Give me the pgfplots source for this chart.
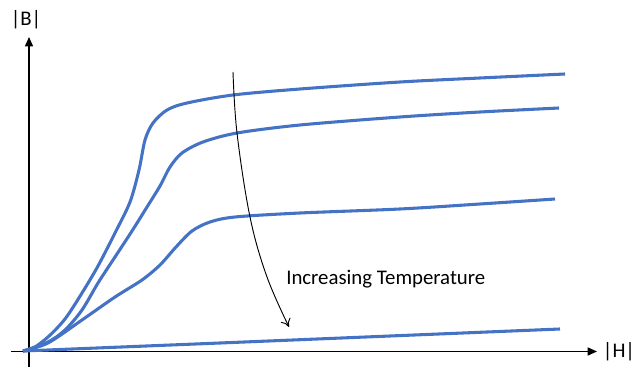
\documentclass[border=0pt]{standalone}
\usepackage{fontspec}
\setmainfont{Carlito}
\usepackage{pgfplots}
\pgfplotsset{compat=1.18}
\usetikzlibrary{arrows.meta}
\definecolor{cblue}{RGB}{68,114,196}
\begin{document}
\begin{tikzpicture}
\begin{axis}[
  scale only axis, width=479.25pt, height=286.5pt,
  xmin=0, xmax=639, ymin=0, ymax=382,
  hide axis, clip=false,
]
\path (axis cs:0,0) rectangle (axis cs:639,382);
% axes
\addplot[black, line width=1.1pt, -{Triangle[length=7pt,width=6pt]}] coordinates {(11,30.5) (597,30.5)};
\addplot[black, line width=1.1pt, -{Triangle[length=7pt,width=6pt]}] coordinates {(29,15) (29,345)};
% curves
\addplot[cblue, line width=2.3pt, smooth, tension=0.5] coordinates {
(23,31) (32,33) (48,45) (65,63) (82,89) (98,116) (115,149) (130,180) (139,212) (145,242) (153,259) (167,272) (187,279) (233,287) (300,293) (400,300) (480,304) (565,308)};
\addplot[cblue, line width=2.3pt, smooth, tension=0.5] coordinates {
(23,31) (48,40) (65,52) (82,72) (98,99) (115,125) (132,151) (147,175) (160,196) (170,215) (182,229) (203,240) (237,249) (300,257) (400,265) (480,270) (559,274)};
\addplot[cblue, line width=2.3pt, smooth, tension=0.5] coordinates {
(23,31) (48,39) (82,62) (115,85) (142,102) (160,117) (176,135) (192,151) (210,160) (235,165) (300,169) (400,173) (480,178) (555,183)};
\addplot[cblue, line width=2.3pt] coordinates {(23,31) (220,39) (560,53)};
% annotation arrow
\draw[black, line width=0.7pt, -{To[length=6pt,width=8pt]}] plot[smooth, tension=0.6] coordinates {(axis cs:233,310) (axis cs:237,249) (axis cs:250,165) (axis cs:267,105) (axis cs:289,55)};
\node[anchor=west, inner sep=0pt, font=\fontsize{15.6}{18}\selectfont] at (axis cs:286,103) {Increasing Temperature};
\node[inner sep=0pt, font=\fontsize{15.6}{18}\selectfont] at (axis cs:26,362) {|B|};
\node[inner sep=0pt, font=\fontsize{15.6}{18}\selectfont] at (axis cs:619,30) {|H|};
\end{axis}
\end{tikzpicture}
\end{document}
